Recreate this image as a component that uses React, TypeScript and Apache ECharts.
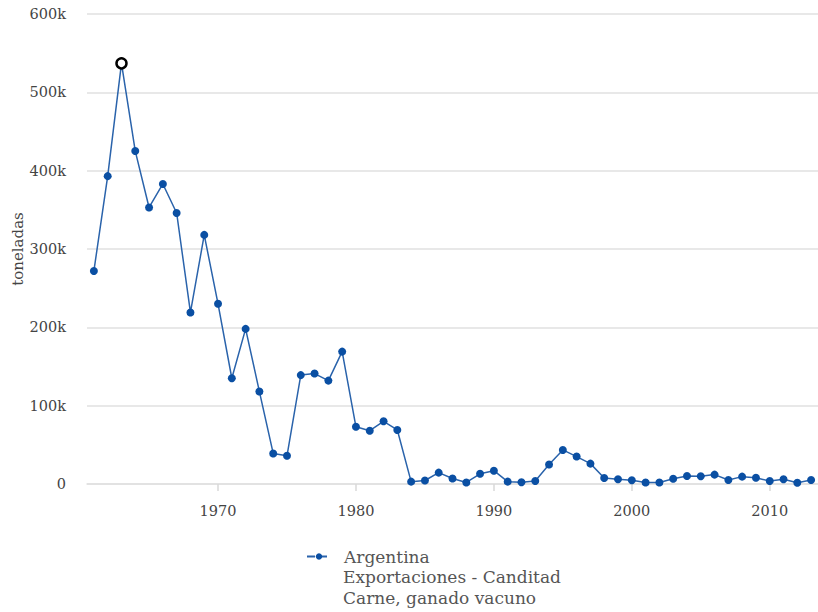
import React, { useEffect, useRef } from "react";
import * as echarts from "echarts";

const years = [
  1961, 1962, 1963, 1964, 1965, 1966, 1967, 1968, 1969, 1970,
  1971, 1972, 1973, 1974, 1975, 1976, 1977, 1978, 1979, 1980,
  1981, 1982, 1983, 1984, 1985, 1986, 1987, 1988, 1989, 1990,
  1991, 1992, 1993, 1994, 1995, 1996, 1997, 1998, 1999, 2000,
  2001, 2002, 2003, 2004, 2005, 2006, 2007, 2008, 2009, 2010,
  2011, 2012, 2013,
];
const tonnes = [
  272000, 393000, 537000, 425000, 353000, 383000, 346000, 219000, 318000, 230000,
  135000, 198000, 118000, 39000, 36000, 139000, 141000, 132000, 169000, 73000,
  68000, 80000, 69000, 3000, 4500, 14500, 7000, 2000, 13000, 17000,
  3000, 2200, 3800, 25000, 43500, 35000, 26000, 7700, 6000, 4700,
  2000, 2000, 6800, 10200, 10000, 12000, 5100, 9400, 8000, 3800,
  6000, 1700, 5100,
];
const xTicks = [1970, 1980, 1990, 2000, 2010];
const yTicks = [0, 100000, 200000, 300000, 400000, 500000, 600000];
const highlightYear = 1963;
const seriesName = "Argentina";
const legendExtra = ["Exportaciones - Canditad", "Carne, ganado vacuno"];
const yName = "toneladas";

const FONT = "DejaVu Serif";

export default function App() {
  const ref = useRef<HTMLDivElement>(null);
  useEffect(() => {
    if (!ref.current) return;
    const chart = echarts.init(ref.current, null, { renderer: "svg" });
    const data = years.map((y, i) => {
      if (y === highlightYear) {
        return {
          value: [y, tonnes[i]],
          symbolSize: 10,
          itemStyle: { color: "#ffffff", borderColor: "#000000", borderWidth: 2.5 },
        };
      }
      return { value: [y, tonnes[i]] };
    });
    chart.setOption({
      animation: false,
      backgroundColor: "#ffffff",
      grid: {
        left: 87,
        right: 0,
        top: 14,
        bottom: 128,
        containLabel: false,
        outerBoundsMode: "none",
      },
      xAxis: {
        type: "value",
        min: 1960.5,
        max: 2013.5,
        splitLine: { show: false },
        axisLine: { show: true, lineStyle: { color: "#e0e0e0", width: 1.5 } },
        axisTick: {
          show: true,
          customValues: xTicks,
          length: 7,
          lineStyle: { color: "#d8d8d8", width: 1.5 },
        },
        axisLabel: {
          customValues: xTicks,
          margin: 19,
          fontFamily: FONT,
          fontSize: 14.5,
          color: "#444",
          formatter: (v: number) => String(v),
        },
      },
      yAxis: {
        type: "value",
        min: 0,
        max: 600000,
        interval: 100000,
        name: yName,
        nameLocation: "middle",
        nameGap: 62,
        nameMoveOverlap: false,
        nameRotate: 90,
        nameTextStyle: { fontFamily: FONT, fontSize: 15, color: "#444" },
        axisLine: { show: false },
        axisTick: { show: false },
        splitLine: { lineStyle: { color: "#e0e0e0", width: 1.5 } },
        axisLabel: {
          customValues: yTicks,
          margin: 21,
          fontFamily: FONT,
          fontSize: 14.5,
          color: "#444",
          formatter: (v: number) => (v === 0 ? "0" : v / 1000 + "k"),
        },
      },
      legend: {
        show: true,
        left: 301,
        top: 543,
        itemWidth: 24,
        itemHeight: 8,
        itemGap: 10,
        textStyle: { fontFamily: FONT, fontSize: 17, color: "#555", padding: [0, 0, 0, 8] },
        lineStyle: { type: "dashed" },
        data: [seriesName],
      },
      graphic: [
        {
          type: "text",
          left: 343,
          top: 566,
          style: {
            text: legendExtra.join("\n"),
            font: `17px "${FONT}"`,
            fill: "#555",
            lineHeight: 21.5,
          },
        },
      ],
      series: [
        {
          type: "line",
          name: seriesName,
          data,
          symbol: "circle",
          symbolSize: 8,
          showAllSymbol: true,
          lineStyle: { color: "#2a63ab", width: 1.5 },
          itemStyle: { color: "#0a4fa3" },
          z: 3,
        },
      ],
    });
    return () => chart.dispose();
  }, []);
  return (
    <div
      ref={ref}
      style={{ position: "fixed", left: 0, top: 0, width: 818, height: 612 }}
    />
  );
}
